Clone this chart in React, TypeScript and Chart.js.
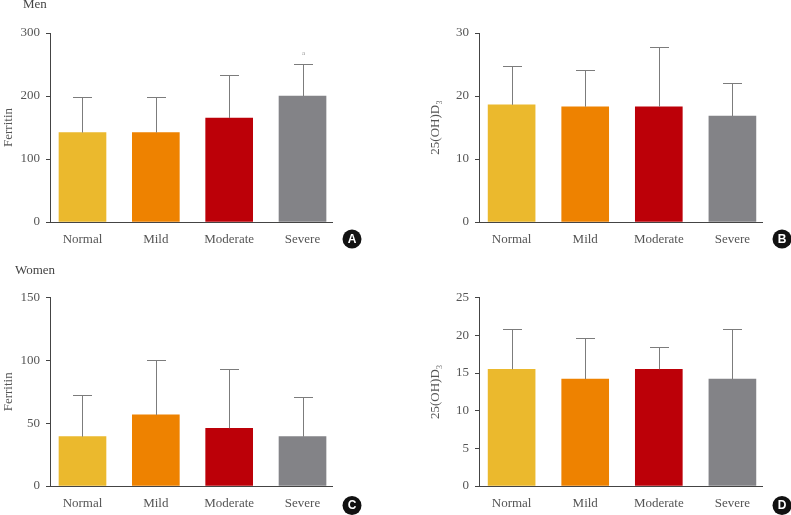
import React, { useEffect, useRef } from "react";
import { Chart, registerables } from "chart.js";

Chart.register(...registerables);

const categories = ["Normal", "Mild", "Moderate", "Severe"];
const barColors = ["#EBB92D", "#EE8200", "#BC0008", "#838387"];

// Men
const menFerritinMean = [142, 142, 165, 200];
const menFerritinSD = [56, 56, 68, 51];
const menFerritinMarks = ["", "", "", "a"];
const menVitDMean = [18.6, 18.3, 18.3, 16.8];
const menVitDSD = [6.1, 5.8, 9.4, 5.2];

// Women
const womenFerritinMean = [39.3, 56.6, 46, 39.3];
const womenFerritinSD = [33.2, 43.6, 47.2, 31.6];
const womenVitDMean = [15.5, 14.2, 15.5, 14.2];
const womenVitDSD = [5.4, 5.4, 2.9, 6.6];

const SERIF = '"Liberation Serif", "Times New Roman", serif';

type PanelProps = {
  left: number;
  top: number;
  width: number;
  height: number;
  axisLeft: number;
  chartRight: number;
  chartTop: number;
  chartBottom: number;
  means: number[];
  sds: number[];
  marks?: string[];
  yMax: number;
  yStep: number;
  yTitle: string;
  titlePad: number;
  letter: string;
  letterDy: number;
  heading?: string;
  headingX?: number;
  headingY?: number;
};

function Panel(p: PanelProps) {
  const ref = useRef<HTMLCanvasElement | null>(null);
  useEffect(() => {
    if (!ref.current) return;
    const decor = {
      id: "decor",
      afterDatasetsDraw(chart: any) {
        const ctx = chart.ctx;
        const xs = chart.scales.x;
        const ys = chart.scales.y;
        ctx.save();
        ctx.strokeStyle = "#7c7c7c";
        ctx.lineWidth = 1;
        p.sds.forEach((sd, i) => {
          const x = Math.round(xs.getPixelForValue(i)) + 0.5;
          const y0 = ys.getPixelForValue(p.means[i]);
          const y1 = Math.round(ys.getPixelForValue(p.means[i] + sd)) + 0.5;
          ctx.beginPath();
          ctx.moveTo(x, y0);
          ctx.lineTo(x, y1);
          ctx.moveTo(x - 9.5, y1);
          ctx.lineTo(x + 9.5, y1);
          ctx.stroke();
          if (p.marks && p.marks[i]) {
            ctx.fillStyle = "#9a9a9a";
            ctx.font = `7px ${SERIF}`;
            ctx.textAlign = "center";
            ctx.textBaseline = "middle";
            ctx.fillText(p.marks[i], x, y1 - 11);
          }
        });
        // panel letter
        const cx = chart.chartArea.right + 20;
        const cy = chart.chartArea.bottom + p.letterDy;
        ctx.fillStyle = "#111111";
        ctx.beginPath();
        ctx.arc(cx, cy, 9.5, 0, Math.PI * 2);
        ctx.fill();
        ctx.fillStyle = "#ffffff";
        ctx.font = 'bold 12px "Liberation Sans", Arial, sans-serif';
        ctx.textAlign = "center";
        ctx.textBaseline = "middle";
        ctx.fillText(p.letter, cx, cy + 0.5);
        if (p.heading) {
          ctx.fillStyle = "#444444";
          ctx.font = `13px ${SERIF}`;
          ctx.textAlign = "left";
          ctx.textBaseline = "alphabetic";
          ctx.fillText(p.heading, p.headingX ?? 0, p.headingY ?? 0);
        }
        ctx.restore();
      },
    };

    const tickFont = { family: SERIF, size: 13 };
    const chart = new Chart(ref.current, {
      type: "bar",
      data: {
        datasets: [
          {
            data: p.means.map((v, i) => ({ x: i, y: v })),
            backgroundColor: barColors,
            borderWidth: 0,
            barThickness: 47,
          } as any,
        ],
      },
      options: {
        animation: false,
        responsive: false,
        devicePixelRatio: 1,
        layout: {
          padding: {
            left: 0,
            right: p.width - p.chartRight,
            top: p.chartTop,
            bottom: 0,
          },
        },
        plugins: {
          legend: { display: false },
          tooltip: { enabled: false },
        },
        scales: {
          x: {
            type: "linear",
            offset: false,
            min: -0.443,
            max: 3.402,
            grid: { display: false, offset: false },
            border: { display: true, color: "#444444", width: 1 },
            afterBuildTicks: (s: any) => {
              s.ticks = categories.map((_, i) => ({ value: i }));
            },
            ticks: {
              callback: (v: any) => categories[v as number] ?? "",
              color: "#555555",
              font: tickFont,
              padding: 2,
              autoSkip: false,
              maxRotation: 0,
            },
            afterFit: (s: any) => {
              s.height = p.height - p.chartBottom;
            },
          },
          y: {
            min: 0,
            max: p.yMax,
            ticks: {
              stepSize: p.yStep,
              color: "#555555",
              font: tickFont,
              padding: 6,
            },
            grid: {
              drawOnChartArea: false,
              drawTicks: true,
              tickLength: 4,
              color: "#444444",
            },
            border: { display: true, color: "#444444", width: 1 },
            title: {
              display: true,
              text: p.yTitle,
              color: "#555555",
              font: { family: SERIF, size: 13 },
              padding: { top: p.titlePad, bottom: 0 },
            },
            afterFit: (s: any) => {
              s.width = p.axisLeft;
            },
          },
        } as any,
      },
      plugins: [decor],
    });
    return () => chart.destroy();
  }, []);

  return (
    <canvas
      ref={ref}
      width={p.width}
      height={p.height}
      style={{
        position: "absolute",
        left: p.left,
        top: p.top,
        width: p.width,
        height: p.height,
      }}
    />
  );
}

export default function App() {
  return (
    <div
      style={{
        position: "absolute",
        left: 0,
        top: 0,
        width: 791,
        height: 515,
        background: "#ffffff",
        overflow: "hidden",
      }}
    >
      <Panel
        left={0}
        top={0}
        width={395}
        height={257}
        axisLeft={50}
        chartRight={332}
        chartTop={33}
        chartBottom={222}
        means={menFerritinMean}
        sds={menFerritinSD}
        marks={menFerritinMarks}
        yMax={300}
        yStep={100}
        yTitle="Ferritin"
        titlePad={1}
        letter="A"
        letterDy={17}
        heading="Men"
        headingX={23}
        headingY={8}
      />
      <Panel
        left={395}
        top={0}
        width={396}
        height={257}
        axisLeft={84}
        chartRight={367}
        chartTop={33}
        chartBottom={222}
        means={menVitDMean}
        sds={menVitDSD}
        yMax={30}
        yStep={10}
        yTitle="25(OH)D₃"
        titlePad={33}
        letter="B"
        letterDy={17}
      />
      <Panel
        left={0}
        top={257}
        width={395}
        height={258}
        axisLeft={50}
        chartRight={332}
        chartTop={40.7}
        chartBottom={229}
        means={womenFerritinMean}
        sds={womenFerritinSD}
        yMax={150}
        yStep={50}
        yTitle="Ferritin"
        titlePad={1}
        letter="C"
        letterDy={19.5}
        heading="Women"
        headingX={15}
        headingY={17}
      />
      <Panel
        left={395}
        top={257}
        width={396}
        height={258}
        axisLeft={84}
        chartRight={367}
        chartTop={40.7}
        chartBottom={229}
        means={womenVitDMean}
        sds={womenVitDSD}
        yMax={25}
        yStep={5}
        yTitle="25(OH)D₃"
        titlePad={33}
        letter="D"
        letterDy={19.5}
      />
    </div>
  );
}
